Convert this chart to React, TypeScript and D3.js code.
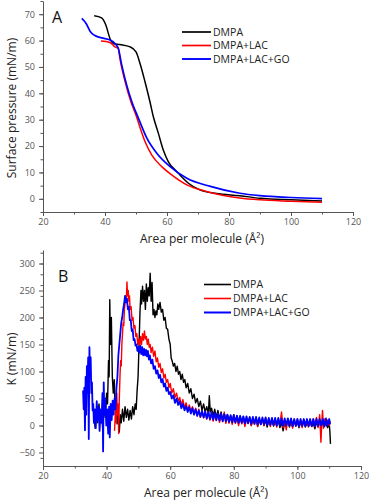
import React, { useEffect, useRef } from "react";
import * as d3 from "d3";

// legend / series
const seriesNames = ["DMPA", "DMPA+LAC", "DMPA+LAC+GO"];
const seriesColors = ["#000000", "#ff0000", "#0000ff"];

// panel A: surface pressure isotherms [area, pressure]
const isoDMPA = [
  [36.5, 69.4], [38.9, 68.6], [40.3, 65.8], [41.6, 60.8], [42.7, 58.9], [44.8, 58.5], [48.1, 57.6],
  [50.0, 55.7], [51.3, 51.3], [52.9, 44.4], [54.5, 36.8], [55.6, 31.1], [57.2, 24.9], [58.8, 18.5],
  [60.4, 14.1], [63.1, 10.4], [66.9, 5.9], [70.6, 3.4], [76.0, 2.0], [83.5, 1.2], [90.0, 0.2],
  [100.0, -0.4], [110.0, -0.8],
];
const isoLAC = [
  [38.7, 59.8], [41.6, 59.3], [43.2, 57.6], [44.3, 57.0], [44.8, 53.2], [46.5, 44.4], [48.3, 37.0],
  [50.2, 31.0], [51.3, 27.0], [52.9, 21.7], [55.1, 16.6], [58.3, 12.2], [61.5, 9.1], [66.4, 5.3],
  [72.8, 2.8], [83.5, 0.3], [90.0, -0.4], [100.0, -0.9], [110.0, -1.3],
];
const isoGO = [
  [32.5, 68.4], [33.9, 66.5], [35.3, 63.3], [36.6, 62.0], [38.9, 61.0], [41.6, 60.2], [43.2, 58.9],
  [44.3, 57.0], [45.4, 50.7], [47.0, 43.1], [48.6, 37.0], [50.8, 30.5], [53.5, 23.0], [56.7, 17.3],
  [61.0, 12.2], [66.4, 7.8], [74.0, 4.7], [83.5, 2.1], [90.0, 1.2], [100.0, 0.5], [110.0, 0.1],
];

// panel B: compressibility modulus K [area, K]
const kDMPA = [
  [36.0, 20], [36.4, -5], [36.8, 30], [37.2, 5], [37.6, 40], [38.0, 10], [38.4, 25], [38.8, -8],
  [39.2, 35], [39.6, 15], [40.0, 60], [40.3, 40], [40.6, 120], [40.8, 90], [41.0, 233], [41.2, 150],
  [41.5, 200], [41.8, 90], [42.1, 60], [42.4, 85], [42.7, 30], [43.0, 50], [43.3, 3], [43.6, 25],
  [44.0, -12], [44.3, 20], [44.6, 5], [45.0, 30], [45.4, 8], [45.8, 35], [46.2, 15], [46.6, 30],
  [47.0, 10], [47.4, 28], [47.8, 12], [48.2, 35], [48.6, 20], [49.0, 40], [49.3, 30], [49.6, 65],
  [49.9, 90], [50.2, 150], [50.5, 210], [50.8, 250], [51.0, 225], [51.3, 258], [51.6, 230], [51.9, 250],
  [52.2, 215], [52.5, 262], [52.8, 230], [53.1, 255], [53.4, 240], [53.7, 282], [54.0, 230], [54.3, 265],
  [54.6, 205], [54.9, 215], [55.2, 200], [55.5, 212], [55.8, 205], [56.1, 225], [56.4, 215], [56.8, 228],
  [57.2, 210], [57.6, 215], [58.0, 195], [58.4, 200], [58.8, 180], [59.2, 178], [59.6, 160], [60.0, 150],
  [60.3, 125], [60.6, 120], [61.0, 110], [61.4, 115], [61.8, 100], [62.2, 110], [62.6, 95], [63.0, 100],
  [63.4, 85], [63.8, 95], [64.2, 80], [64.6, 85], [65.0, 70], [65.5, 78], [66.0, 60], [66.5, 68],
  [67.0, 50], [67.5, 58], [68.0, 42], [68.5, 50], [69.0, 35], [69.5, 45], [70.0, 28], [70.5, 40],
  [71.0, 25], [71.5, 35], [72.0, 22], [72.3, 55], [72.6, 25], [73.0, 32], [73.5, 18], [74.0, 30],
  [74.5, 15], [75.0, 28], [75.5, 12], [76.0, 25], [76.5, 10], [77.0, 22], [77.5, 12], [78.0, 20],
  [78.5, 5], [79.0, 18], [79.5, 8], [80.0, 20], [80.5, 6], [81.0, 18], [81.5, 4], [82.0, 15],
  [82.5, 6], [83.0, 16], [83.5, 2], [84.0, 14], [84.5, 5], [85.0, 15], [85.5, 0], [86.0, 12],
  [86.5, 4], [87.0, 14], [87.5, -2], [88.0, 10], [88.5, 2], [89.0, 12], [89.5, 0], [90.0, 10],
  [90.5, -3], [91.0, 9], [91.5, 2], [92.0, 10], [92.5, -1], [93.0, 8], [93.5, 0], [94.0, 9],
  [94.5, -4], [95.0, 6], [95.5, -10], [96.0, 5], [96.5, 0], [97.0, 8], [97.5, -3], [98.0, 6],
  [98.5, -2], [99.0, 7], [99.5, 0], [100.0, 6], [100.5, -4], [101.0, 5], [101.5, 0], [102.0, 6],
  [102.5, -3], [103.0, 5], [103.5, -1], [104.0, 6], [104.5, -2], [105.0, 4], [105.5, -6], [106.0, 5],
  [106.5, 0], [107.0, 4], [107.5, -2], [108.0, 5], [108.5, 0], [109.0, 3], [109.5, -4], [110.0, 5],
  [110.2, -10], [110.4, -34],
];
const kLAC = [
  [42.5, -10], [42.8, 30], [43.0, 5], [43.2, 60], [43.4, 20], [43.6, 40], [43.8, -15], [44.0, 50],
  [44.2, 90], [44.4, 120], [44.6, 110], [44.8, 150], [45.0, 170], [45.2, 190], [45.4, 185], [45.6, 215],
  [45.8, 225], [46.0, 240], [46.2, 230], [46.4, 266], [46.6, 240], [46.8, 250], [47.0, 230], [47.2, 240],
  [47.4, 215], [47.7, 220], [48.0, 195], [48.3, 200], [48.6, 180], [48.9, 185], [49.2, 165], [49.5, 170],
  [49.8, 150], [50.1, 160], [50.4, 148], [50.7, 165], [51.0, 150], [51.3, 170], [51.6, 158], [51.9, 175],
  [52.2, 160], [52.5, 165], [52.8, 150], [53.1, 160], [53.4, 145], [53.7, 150], [54.0, 135], [54.4, 145],
  [54.8, 128], [55.2, 138], [55.6, 118], [56.0, 125], [56.4, 108], [56.8, 115], [57.2, 98], [57.6, 105],
  [58.0, 88], [58.4, 95], [58.8, 80], [59.2, 85], [59.6, 70], [60.0, 78], [60.5, 60], [61.0, 68],
  [61.5, 52], [62.0, 60], [62.5, 45], [63.0, 52], [63.5, 38], [64.0, 48], [64.5, 32], [65.0, 42],
  [65.5, 28], [66.0, 38], [66.5, 25], [67.0, 35], [67.5, 22], [68.0, 32], [68.5, 18], [69.0, 30],
  [69.5, 15], [70.0, 28], [70.5, 14], [71.0, 26], [71.5, 12], [72.0, 25], [72.5, 10], [73.0, 22],
  [73.5, 8], [74.0, 20], [74.5, 9], [75.0, 22], [75.5, 6], [76.0, 20], [76.5, 7], [77.0, 25],
  [77.5, 4], [78.0, 18], [78.5, 5], [79.0, 16], [79.5, 2], [80.0, 15], [80.5, 4], [81.0, 16],
  [81.5, 0], [82.0, 14], [82.5, 3], [83.0, 15], [83.5, -2], [84.0, 12], [84.5, 4], [85.0, 14],
  [85.5, 0], [86.0, 12], [86.5, 2], [87.0, 13], [87.5, -1], [88.0, 11], [88.5, 3], [89.0, 12],
  [89.5, 0], [90.0, 14], [90.5, 2], [91.0, 10], [91.5, -2], [92.0, 12], [92.5, 1], [93.0, 10],
  [93.5, -3], [94.0, 11], [94.5, 2], [95.0, 25], [95.5, -4], [96.0, 10], [96.5, -8], [97.0, 12],
  [97.5, 0], [98.0, 8], [98.5, -5], [99.0, 10], [99.5, 0], [100.0, 12], [100.5, -2], [101.0, 8],
  [101.5, -4], [102.0, 10], [102.5, 0], [103.0, 7], [103.5, -3], [104.0, 10], [104.5, 0], [105.0, 12],
  [105.5, -2], [106.0, 15], [106.5, -4], [107.0, 20], [107.4, -31], [107.7, 10], [107.9, 28], [108.2, -5],
  [108.5, 12], [109.0, 2], [109.5, 10], [110.0, 0], [110.3, 8],
];
const kGO = [
  [32.6, 65], [32.8, 30], [33.0, 70], [33.2, -9], [33.4, 90], [33.6, 20], [33.8, 110], [34.0, 60],
  [34.2, 126], [34.4, -25], [34.6, 145], [34.8, 100], [35.0, 126], [35.2, 60], [35.4, 80], [35.6, 28],
  [35.8, 40], [36.0, 5], [36.3, 30], [36.6, -5], [36.9, 45], [37.2, 10], [37.5, 35], [37.8, -10],
  [38.1, 30], [38.4, 5], [38.7, 60], [38.9, -48], [39.1, 80], [39.3, 20], [39.6, 50], [39.9, 0],
  [40.2, 30], [40.5, -15], [40.8, 35], [41.0, -22], [41.3, 40], [41.6, 10], [41.9, 46], [42.2, 20],
  [42.5, 50], [42.8, 30], [43.1, 70], [43.4, 90], [43.7, 130], [44.0, 150], [44.3, 170], [44.6, 190],
  [44.9, 200], [45.2, 215], [45.5, 225], [45.8, 240], [46.1, 228], [46.4, 235], [46.7, 215], [47.0, 220],
  [47.3, 195], [47.6, 195], [47.9, 175], [48.2, 178], [48.5, 158], [48.8, 160], [49.1, 148], [49.4, 150],
  [49.7, 138], [50.0, 145], [50.3, 135], [50.6, 148], [50.9, 132], [51.2, 145], [51.5, 130], [51.8, 142],
  [52.1, 130], [52.4, 140], [52.7, 128], [53.0, 138], [53.3, 122], [53.6, 130], [54.0, 115], [54.4, 122],
  [54.8, 105], [55.2, 110], [55.6, 96], [56.0, 102], [56.4, 88], [56.8, 94], [57.2, 80], [57.6, 86],
  [58.0, 72], [58.4, 78], [58.8, 64], [59.2, 70], [59.6, 58], [60.0, 62], [60.5, 50], [61.0, 56],
  [61.5, 42], [62.0, 50], [62.5, 38], [63.0, 45], [63.5, 32], [64.0, 40], [64.5, 28], [65.0, 36],
  [65.5, 25], [66.0, 34], [66.5, 22], [67.0, 32], [67.5, 20], [68.0, 30], [68.5, 18], [69.0, 28],
  [69.5, 16], [70.0, 27], [70.5, 15], [71.0, 26], [71.5, 13], [72.0, 25], [72.5, 12], [73.0, 24],
  [73.5, 11], [74.0, 23], [74.5, 10], [75.0, 22], [75.5, 9], [76.0, 22], [76.5, 8], [77.0, 21],
  [77.5, 8], [78.0, 20], [78.5, 7], [79.0, 19], [79.5, 6], [80.0, 19], [80.5, 6], [81.0, 18],
  [81.5, 5], [82.0, 18], [82.5, 5], [83.0, 17], [83.5, 4], [84.0, 17], [84.5, 4], [85.0, 16],
  [85.5, 3], [86.0, 16], [86.5, 3], [87.0, 16], [87.5, 2], [88.0, 15], [88.5, 2], [89.0, 15],
  [89.5, 2], [90.0, 15], [90.5, 1], [91.0, 14], [91.5, 1], [92.0, 14], [92.5, 1], [93.0, 14],
  [93.5, 0], [94.0, 14], [94.5, 0], [95.0, 13], [95.5, 0], [96.0, 13], [96.5, 0], [97.0, 13],
  [97.5, 0], [98.0, 13], [98.5, -1], [99.0, 12], [99.5, -1], [100.0, 12], [100.5, -1], [101.0, 12],
  [101.5, -1], [102.0, 12], [102.5, -1], [103.0, 12], [103.5, -1], [104.0, 12], [104.5, -1], [105.0, 12],
  [105.5, -1], [106.0, 12], [106.5, -1], [107.0, 12], [107.5, 0], [108.0, 12], [108.5, -2], [109.0, 13],
  [109.5, 0], [110.0, 12], [110.3, 2],
];

const FONT = "'Open Sans', 'DejaVu Sans', sans-serif";

const App = () => {
  const svgRef = useRef(null);

  useEffect(() => {
    const svg = d3.select(svgRef.current);
    svg.selectAll("*").remove();

    const drawPanel = (p) => {
      const g = svg.append("g");
      const x = d3.scaleLinear().domain([20, 120]).range(p.xRange);
      const y = d3.scaleLinear().domain(p.yDomain).range(p.yRange);
      const y0 = p.yRange[0];

      const style = (sel) => {
        sel.select(".domain").attr("stroke", "#555");
        sel.selectAll("line").attr("stroke", "#555");
        sel.selectAll("text").attr("font-family", FONT).attr("font-size", 9).attr("fill", "#555");
      };

      // minor ticks
      g.append("g").attr("transform", `translate(0,${y0})`)
        .call(d3.axisBottom(x).tickValues(x.ticks(10)).tickSize(2.5).tickFormat(() => ""))
        .call((s) => s.select(".domain").remove()).call(style);
      g.append("g").attr("transform", `translate(${p.xRange[0]},0)`)
        .call(d3.axisLeft(y).tickValues(y.ticks(16)).tickSize(2.5).tickFormat(() => ""))
        .call((s) => s.select(".domain").remove()).call(style);
      // major ticks
      g.append("g").attr("transform", `translate(0,${y0})`)
        .call(d3.axisBottom(x).tickValues(x.ticks(5)).tickSize(4).tickSizeOuter(0).tickPadding(3))
        .call(style);
      g.append("g").attr("transform", `translate(${p.xRange[0]},0)`)
        .call(d3.axisLeft(y).tickValues(y.ticks(8)).tickSize(4).tickSizeOuter(0).tickPadding(4))
        .call(style);

      const line = d3.line().x((d) => x(d[0])).y((d) => y(d[1])).curve(p.curve);
      p.series.forEach((s, i) => {
        g.append("path").datum(s).attr("fill", "none").attr("stroke", seriesColors[i])
          .attr("stroke-width", p.widths[i]).attr("stroke-linejoin", "round").attr("d", line);
      });

      // panel letter
      g.append("text").attr("x", p.letter[0]).attr("y", p.letter[1]).attr("font-family", FONT)
        .attr("font-size", 16).attr("fill", "#111").text(p.letterText);

      // legend
      seriesNames.forEach((name, i) => {
        const ly = p.legend.y[i];
        g.append("line").attr("x1", p.legend.x1).attr("x2", p.legend.x2).attr("y1", ly).attr("y2", ly)
          .attr("stroke", seriesColors[i]).attr("stroke-width", p.widths[i] + 0.2);
        g.append("text").attr("x", p.legend.x2 + 2).attr("y", ly).attr("dy", "0.35em")
          .attr("font-family", FONT).attr("font-size", 10.5).attr("fill", "#222").text(name);
      });

      // axis titles
      g.append("text").attr("x", (p.xRange[0] + p.xRange[1]) / 2 + 4).attr("y", p.xTitleY)
        .attr("text-anchor", "middle").attr("font-family", FONT).attr("font-size", 12).attr("fill", "#222")
        .text("Area per molecule (Å²)");
      g.append("text").attr("transform", `translate(16,${p.yTitleY}) rotate(-90)`)
        .attr("text-anchor", "middle").attr("font-family", FONT).attr("font-size", 12).attr("fill", "#222")
        .text(p.yTitle);
    };

    drawPanel({
      xRange: [43, 353], yDomain: [-5, 75], yRange: [212, 1],
      series: [isoDMPA, isoLAC, isoGO], widths: [1.5, 1.5, 1.7], curve: d3.curveMonotoneX,
      letter: [52, 23], letterText: "A",
      legend: { x1: 182, x2: 211, y: [32, 45.5, 59] },
      xTitleY: 243, yTitle: "Surface pressure (mN/m)", yTitleY: 108,
    });
    drawPanel({
      xRange: [43, 361], yDomain: [-75, 325], yRange: [466, 250],
      series: [kDMPA, kLAC, kGO], widths: [1.4, 1.4, 1.8], curve: d3.curveLinear,
      letter: [58, 282], letterText: "B",
      legend: { x1: 204, x2: 231, y: [284.5, 298.5, 312.5] },
      xTitleY: 497, yTitle: "K (mN/m)", yTitleY: 359,
    });
  }, []);

  return <svg ref={svgRef} width={369} height={500} style={{ position: "absolute", left: 0, top: 0 }}></svg>;
};

export default App;
